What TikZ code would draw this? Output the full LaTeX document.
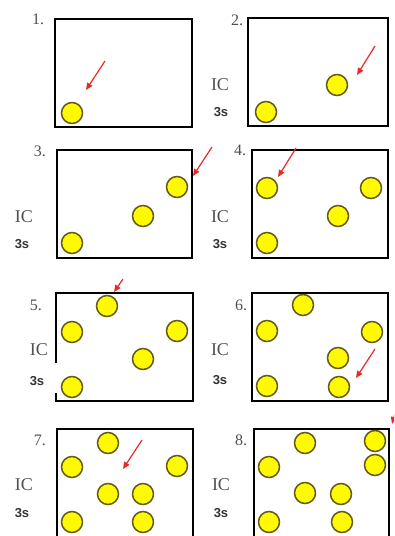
\documentclass[tikz,border=0pt]{standalone}
\usepackage{fontspec}
\setmainfont{Liberation Serif}
\newfontfamily\labsans{Liberation Sans}
\usetikzlibrary{arrows.meta}
\definecolor{ballfill}{RGB}{255,250,0}
\definecolor{balledge}{RGB}{100,90,25}
\definecolor{arrred}{RGB}{235,40,40}
\definecolor{txtgrey}{RGB}{80,80,80}
\tikzset{
  ball/.style={circle, minimum size=21pt, inner sep=0pt, fill=ballfill, draw=balledge, line width=1.5pt},
  frame/.style={draw=black, line width=2.8pt},
  pointer/.style={draw=arrred, line width=1.2pt, -{Triangle[length=7pt,width=6pt]}},
  numlab/.style={font=\fontsize{16}{16}\selectfont, text=txtgrey, inner sep=0pt},
  iclab/.style={font=\fontsize{18}{18}\selectfont, text=txtgrey, inner sep=0pt},
  slab/.style={font=\labsans\bfseries\fontsize{13}{13}\selectfont, text=black!80, inner sep=0pt}
}
\begin{document}
\begin{tikzpicture}[x=1pt,y=-1pt]
\useasboundingbox (0,0) rectangle (394,536);
\clip (0,0) rectangle (394,536);
% frames
\draw[frame] (55,19) rectangle (192,127);
\draw[frame] (248,18) rectangle (388,126);
\draw[frame] (57,150) rectangle (192,258);
\draw[frame] (252,150) rectangle (388,258);
\draw[frame] (56,363) -- (56,293) -- (193,293) -- (193,401) -- (56,401) -- (56,393);
\draw[frame] (252,293) rectangle (388,401);
\draw[frame] (57,545) -- (57,429) -- (193,429) -- (193,545);
\draw[frame] (254,545) -- (254,429) -- (389,429) -- (389,545);
% labels
\node[numlab] (n1) at (38,19) {1.};
\node[numlab] (n2) at (237,20) {2.};
\node[numlab] (n3) at (40,151) {3.};
\node[numlab] (n4) at (240,150) {4.};
\node[numlab] (n5) at (36,305) {5.};
\node[numlab] (n6) at (241,305) {6.};
\node[numlab] (n7) at (40,440) {7.};
\node[numlab] (n8) at (241,440) {8.};
\node[iclab] (ic2) at (220,85) {IC};
\node[iclab] (ic3) at (24,217) {IC};
\node[iclab] (ic4) at (220,217) {IC};
\node[iclab] (ic5) at (39,350) {IC};
\node[iclab] (ic6) at (220,350) {IC};
\node[iclab] (ic7) at (24,485) {IC};
\node[iclab] (ic8) at (221,485) {IC};
\node[slab] (s2) at (221,112) {3s};
\node[slab] (s3) at (22,244) {3s};
\node[slab] (s4) at (220,244) {3s};
\node[slab] (s5) at (37,381) {3s};
\node[slab] (s6) at (220,380) {3s};
\node[slab] (s7) at (22,513) {3s};
\node[slab] (s8) at (221,513) {3s};
% balls panel 1
\node[ball] (b1a) at (72,113) {};
% panel 2
\node[ball] (b2a) at (266,112) {};
\node[ball] (b2b) at (337,85) {};
% panel 3
\node[ball] (b3a) at (72,243) {};
\node[ball] (b3b) at (143,216) {};
\node[ball] (b3c) at (177,187) {};
% panel 4
\node[ball] (b4a) at (267,243) {};
\node[ball] (b4b) at (338,216) {};
\node[ball] (b4c) at (371,188) {};
\node[ball] (b4d) at (267,188) {};
% panel 5
\node[ball] (b5a) at (107,306) {};
\node[ball] (b5b) at (72,332) {};
\node[ball] (b5c) at (177,331) {};
\node[ball] (b5d) at (143,359) {};
\node[ball] (b5e) at (72,387) {};
% panel 6
\node[ball] (b6a) at (303,305) {};
\node[ball] (b6b) at (267,331) {};
\node[ball] (b6c) at (372,332) {};
\node[ball] (b6d) at (338,358) {};
\node[ball] (b6e) at (339,387) {};
\node[ball] (b6f) at (267,386) {};
% panel 7
\node[ball] (b7a) at (108,443) {};
\node[ball] (b7b) at (72,467) {};
\node[ball] (b7c) at (177,466) {};
\node[ball] (b7d) at (108,494) {};
\node[ball] (b7e) at (143,494) {};
\node[ball] (b7f) at (72,522) {};
\node[ball] (b7g) at (143,522) {};
% panel 8
\node[ball] (b8a) at (305,443) {};
\node[ball] (b8b) at (375,441) {};
\node[ball] (b8c) at (269,467) {};
\node[ball] (b8d) at (375,465) {};
\node[ball] (b8e) at (305,493) {};
\node[ball] (b8f) at (341,494) {};
\node[ball] (b8g) at (269,522) {};
\node[ball] (b8h) at (342,522) {};
% arrows
\coordinate (a1s) at (105,61); \coordinate (a1e) at (86,90);
\coordinate (a2s) at (375,46); \coordinate (a2e) at (357,75);
\coordinate (a3s) at (212,147); \coordinate (a3e) at (193,176);
\coordinate (a4s) at (296,148); \coordinate (a4e) at (278,177);
\coordinate (a5s) at (123,279); \coordinate (a5e) at (114,292);
\coordinate (a6s) at (375,349); \coordinate (a6e) at (356,378);
\coordinate (a7s) at (142,440); \coordinate (a7e) at (123,469);
\coordinate (a8s) at (400,396); \coordinate (a8e) at (392,424);
\draw[pointer] (a1s) -- (a1e);
\draw[pointer] (a2s) -- (a2e);
\draw[pointer] (a3s) -- (a3e);
\draw[pointer] (a4s) -- (a4e);
\draw[pointer] (a5s) -- (a5e);
\draw[pointer] (a6s) -- (a6e);
\draw[pointer] (a7s) -- (a7e);
\draw[pointer] (a8s) -- (a8e);
\end{tikzpicture}
\end{document}
